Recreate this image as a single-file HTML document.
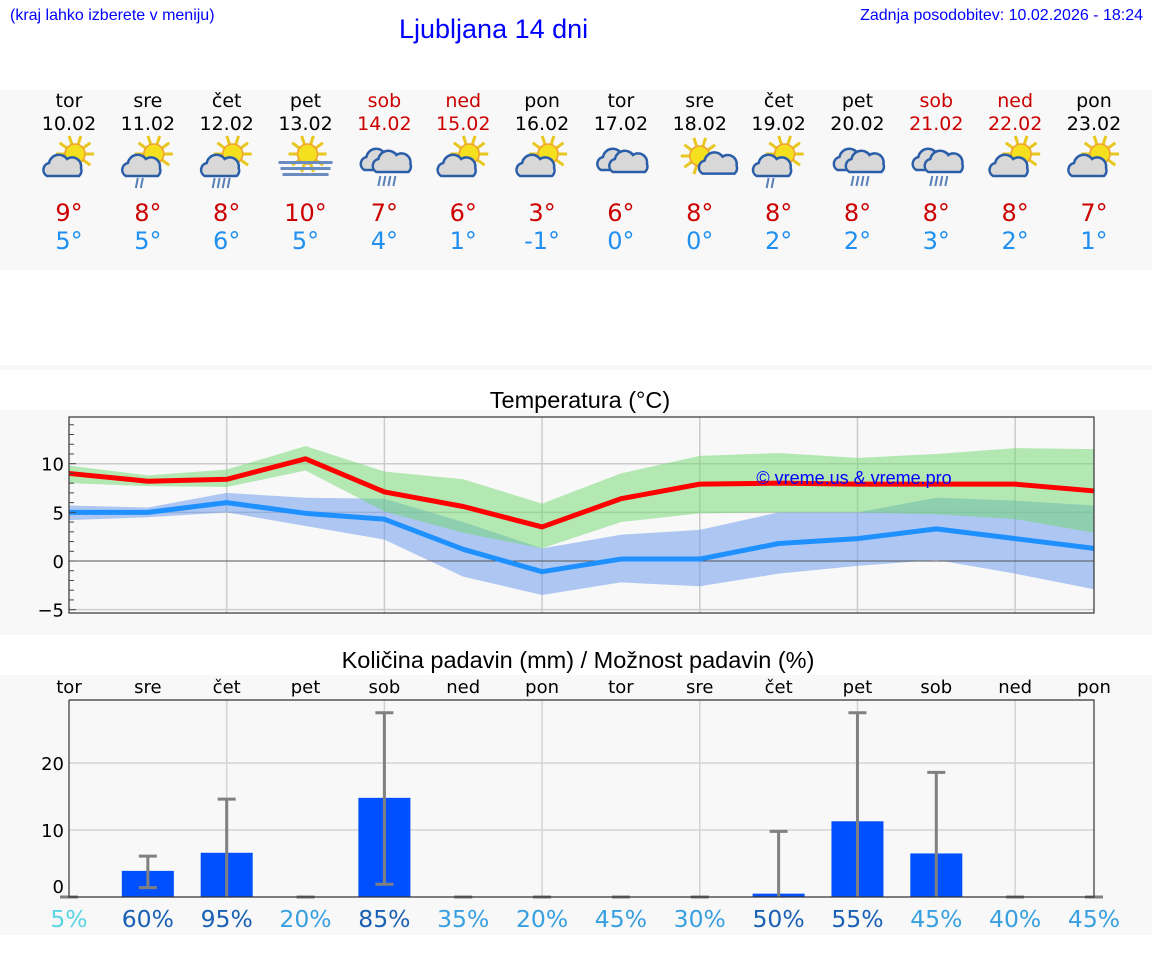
<!DOCTYPE html>
<html><head><meta charset="utf-8">
<style>
body{margin:0;width:1152px;height:975px;background:#fff;position:relative;overflow:hidden;font-family:"DejaVu Sans","Liberation Sans",sans-serif}
.abs{position:absolute}
</style></head>
<body>
<div class="abs" style="left:10px;top:7px;font:16px 'Liberation Sans',sans-serif;color:#00f">(kraj lahko izberete v meniju)</div>
<div class="abs" style="left:399px;top:14px;font:27px 'Liberation Sans',sans-serif;color:#00f">Ljubljana 14 dni</div>
<div class="abs" style="right:9px;top:7px;font:16px 'Liberation Sans',sans-serif;color:#00f">Zadnja posodobitev: 10.02.2026 - 18:24</div>
<div class="abs" style="left:0;top:90px;width:1152px;height:180px;background:#f8f8f8"></div>
<div class="abs" style="left:0;top:365px;width:1152px;height:5px;background:#f8f8f8"></div>
<div class="abs" style="left:0;top:410px;width:1152px;height:225px;background:#f8f8f8"></div>
<div class="abs" style="left:0;top:675px;width:1152px;height:260px;background:#f8f8f8"></div>
<svg id="svg" class="abs" style="left:0;top:0" width="1152" height="975"></svg>
<script>
const days=["tor","sre","čet","pet","sob","ned","pon","tor","sre","čet","pet","sob","ned","pon"];
const dates=["10.02","11.02","12.02","13.02","14.02","15.02","16.02","17.02","18.02","19.02","20.02","21.02","22.02","23.02"];
const icons=["pc","pcr","pcr2","fog","cr","pc","pc","cl","ps","pcr","cr","cr","pc","pc"];
const tmaxLbl=[9,8,8,10,7,6,3,6,8,8,8,8,8,7];
const tminLbl=[5,5,6,5,4,1,-1,0,0,2,2,3,2,1];
const tmax=[9,8.2,8.4,10.5,7.1,5.6,3.5,6.4,7.9,8,7.9,7.9,7.9,7.2];
const tmaxHi=[9.8,8.8,9.4,11.8,9.2,8.4,5.9,9.0,10.8,11.1,10.6,11,11.6,11.5];
const tmaxLo=[8.0,7.7,7.6,9.3,5.1,2.9,1.3,4.0,4.9,5.0,5.0,4.8,4.3,2.9];
const tmin=[5,5,6,4.9,4.3,1.2,-1.1,0.2,0.2,1.8,2.3,3.3,2.3,1.3];
const tminHi=[5.7,5.5,7,6.5,6.4,4,1.3,2.7,3.2,5,5.0,6.5,6.2,5.7];
const tminLo=[4.2,4.5,5.0,3.6,2.2,-1.6,-3.5,-2.2,-2.6,-1.3,-0.5,0.1,-1.3,-2.9];
const tempTicks=[-5,0,5,10];
const precip=[0,3.9,6.6,0,14.8,0,0,0,0,0.5,11.3,6.5,0,0];
const precipLo=[0,1.4,0,0,1.9,0,0,0,0,0,0,0,0,0];
const precipHi=[0,6.1,14.6,0,27.5,0,0,0,0,9.8,27.5,18.6,0,0];
const prob=[5,60,95,20,85,35,20,45,30,50,55,45,40,45];
const precipTicks=[0,10,20];

const NS="http://www.w3.org/2000/svg";
const svg=document.getElementById('svg');
function mk(tag,attrs,parent){const e=document.createElementNS(NS,tag);for(const k in attrs)e.setAttribute(k,attrs[k]);(parent||svg).appendChild(e);return e;}
function txt(x,y,s,size,fill,anchor,family){const t=mk('text',{x:x,y:y,'font-size':size,fill:fill,'text-anchor':anchor||'middle','font-family':family||'DejaVu Sans, Liberation Sans, sans-serif'});t.textContent=s;return t;}
const X=i=>69+i*(1094-69)/13;
const TY=v=>561-v*9.73;
const PY=v=>897-v*6.7;
const weekend=i=>days[i]==="sob"||days[i]==="ned";

function icon(kind,cx,cy){
  const g=mk('g',{transform:`translate(${cx},${cy})`});
  
  
  const sun=(sx,sy)=>{for(let a=0;a<360;a+=36){const r=a*Math.PI/180;mk('line',{x1:sx+Math.cos(r)*10,y1:sy+Math.sin(r)*10,x2:sx+Math.cos(r)*19,y2:sy+Math.sin(r)*19,stroke:'#e8c820','stroke-width':3},g);}mk('circle',{cx:sx,cy:sy,r:10,fill:'#f5e020',stroke:'#f0a030','stroke-width':1.5},g);};
  const cloud=(x,y,s)=>{mk('path',{d:`M${x-16*s},${y+8*s} a7 7 0 0 1 2,-13 a10 10 0 0 1 18,-4 a9 9 0 0 1 14,9 a7 7 0 0 1 -2,8 z`,fill:'#d8d8d8',stroke:'#2a5ea8','stroke-width':2.5},g);};
  const rain=(x,y,n)=>{for(let k=0;k<n;k++)mk('line',{x1:x+k*5+2,y1:y,x2:x+k*5,y2:y+10,stroke:'#5a80b8','stroke-width':2},g);};
  if(kind==="fog"){sun(2,-6);[0,6,12].forEach((d,k)=>mk('rect',{x:-27+k*2,y:d+1,width:54-k*4,height:3,fill:'#6a8cc0'},g));}
  else if(kind==="cl"||kind==="cr"){cloud(-4,2,1);cloud(8,4,1);if(kind==="cr")rain(-6,16,4);}
  else if(kind==="ps"){sun(0,-4);cloud(14,8,0.7);}
  else{sun(6,-6);cloud(-6,8,1);if(kind==="pcr")rain(-12,18,2);if(kind==="pcr2")rain(-14,18,4);}
}
days.forEach((d,i)=>{
  const x=X(i), c=weekend(i)?'#cc0000':'#000';
  const a=txt(x,107,d,19,c);
  const b=txt(x,130,dates[i],19,c);
  icon(icons[i],x,160);
  const m=txt(x,221,tmaxLbl[i]+"°",24,'#cc0000');
  const n=txt(x,249,tminLbl[i]+"°",24,'#2090f0');
});

const tt=txt(580,408,"Temperatura (°C)",23.5,'#000','middle','Liberation Sans, sans-serif');

mk('rect',{x:69,y:417,width:1025,height:196,fill:'#f8f8f8'});
for(let i=2;i<13;i+=2)mk('line',{x1:X(i),y1:417,x2:X(i),y2:613,stroke:'#ccc','stroke-width':1.5});
tempTicks.forEach(v=>{if(v!==0)mk('line',{x1:69,y1:TY(v),x2:1094,y2:TY(v),stroke:'#ccc','stroke-width':1.5});});
function band(hi,lo,fill,name){let d='M'+hi.map((v,i)=>X(i)+','+TY(v)).join(' L')+' L'+lo.map((v,i)=>X(i)+','+TY(v)).reverse().join(' L')+'Z';const p=mk('path',{d:d,fill:fill});}
band(tminHi,tminLo,'rgba(100,150,235,0.5)','min-temp-range');
band(tmaxHi,tmaxLo,'rgba(110,215,110,0.5)','max-temp-range');
mk('line',{x1:69,y1:TY(0),x2:1094,y2:TY(0),stroke:'#555','stroke-width':1});
function line(vals,color,name){const p=mk('polyline',{points:vals.map((v,i)=>X(i)+','+TY(v)).join(' '),fill:'none',stroke:color,'stroke-width':5,'stroke-linejoin':'round'});}
line(tmin,'#1e90ff','min-temp-line');
line(tmax,'#ff0000','max-temp-line');
const wm=txt(854,484,"© vreme.us & vreme.pro",18,'#0000ff','middle','Liberation Sans, sans-serif');

mk('rect',{x:69,y:417,width:1025,height:196,fill:'none',stroke:'#333','stroke-width':1.2});
for(let v=-5;v<=14;v++){mk('line',{x1:69,y1:TY(v),x2:v%5===0?76:74,y2:TY(v),stroke:'#444','stroke-width':1});}
tempTicks.forEach(v=>{const t=txt(64,TY(v)+7,v<0?"−"+(-v):String(v),18,'#000','end');});

const pt=txt(578,668,"Količina padavin (mm) / Možnost padavin (%)",23.5,'#000','middle','Liberation Sans, sans-serif');

days.forEach((d,i)=>{const t=txt(X(i),693,d,18,'#000');});
for(let i=2;i<13;i+=2)mk('line',{x1:X(i),y1:700,x2:X(i),y2:897,stroke:'#d4d4d4','stroke-width':1.5});
precipTicks.forEach(v=>{if(v>0)mk('line',{x1:69,y1:PY(v),x2:1094,y2:PY(v),stroke:'#d4d4d4','stroke-width':1.5});});
precip.forEach((v,i)=>{
  if(v>0){const r=mk('rect',{x:X(i)-26,y:PY(v),width:52,height:897-PY(v),fill:'#0050ff'});}
  const lo=precipLo[i],hi=precipHi[i];
  if(hi>lo){mk('line',{x1:X(i),y1:PY(lo),x2:X(i),y2:PY(hi),stroke:'#808080','stroke-width':3});if(lo>0)mk('line',{x1:X(i)-9,y1:PY(lo),x2:X(i)+9,y2:PY(lo),stroke:'#808080','stroke-width':3});}
  mk('line',{x1:X(i)-9,y1:PY(hi),x2:X(i)+9,y2:PY(hi),stroke:'#808080','stroke-width':3});
  const col=prob[i]<10?'#5cd4e4':(prob[i]>=50?'#1a60b4':'#38a0e0');
  const t=txt(X(i),927,prob[i]+"%",23.5,col);
});
mk('polyline',{points:'69,700 1094,700 1094,897 69,897 69,700',fill:'none',stroke:'#333','stroke-width':1.2});
precipTicks.forEach(v=>{const t=txt(64,PY(v)+(v===0?-4:7),String(v),18,'#000','end');});
</script>
</body></html>
